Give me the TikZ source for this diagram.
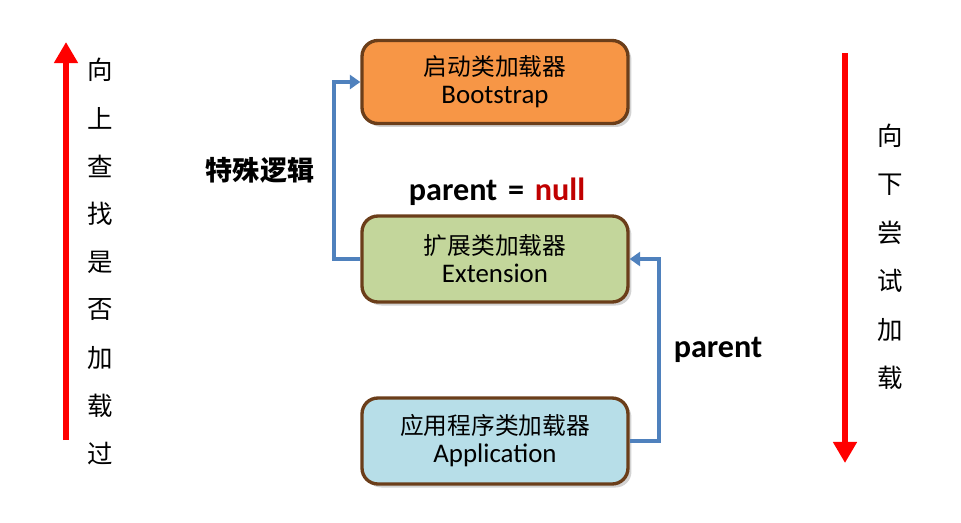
\documentclass[tikz,border=0pt]{standalone}
\usepackage{fontspec}
\setmainfont{Carlito}
\newfontfamily\cjk{Noto Sans CJK SC}
\usetikzlibrary{arrows.meta,shadows}

\definecolor{bootorange}{HTML}{F79646}
\definecolor{extgreen}{HTML}{C3D69B}
\definecolor{appblue}{HTML}{B7DEE8}
\definecolor{boxbrown}{HTML}{6B3E1A}
\definecolor{linkblue}{HTML}{4F81BD}
\definecolor{nullred}{HTML}{C00000}

\newcommand{\cntext}[1]{{\cjk\fontsize{13.5}{16}\selectfont #1}}

\tikzset{
    loader/.style={draw=boxbrown, line width=1.9pt, rounded corners=9pt,
        minimum width=5.32cm, minimum height=1.66cm, align=center,
        font=\fontsize{15.3}{16}\selectfont,
        drop shadow={shadow xshift=0.07cm, shadow yshift=-0.07cm, opacity=0.35}},
    link/.style={draw=linkblue, line width=2.2pt, -{Triangle[width=8pt,length=6pt]}},
    bigarrow/.style={draw=red, line width=3pt, -{Triangle[width=13pt,length=12pt]}},
    tag/.style={font=\cjk\bfseries\fontsize{15.4}{18}\selectfont},
    entag/.style={font=\bfseries\fontsize{18.3}{20}\selectfont},
    vchar/.style={font=\cjk\fontsize{14.5}{16}\selectfont}
}

\begin{document}
\begin{tikzpicture}[x=0.02cm, y=-0.02cm]
\useasboundingbox (0,0) rectangle (961,522);

% Loaders
\node[loader, fill=bootorange] (boot) at (495,82) {\cntext{启动类加载器}\\Bootstrap};
\node[loader, fill=extgreen, minimum height=1.72cm] (ext) at (495,259) {\cntext{扩展类加载器}\\Extension};
\node[loader, fill=appblue, minimum height=1.72cm] (app) at (495,441) {\cntext{应用程序类加载器}\\Application};

% Parent links
\coordinate (lbend) at (334,0);
\coordinate (rbend) at (659,0);
\draw[link] (ext.west) -- (ext.west -| lbend) -- (boot.west -| lbend) -- (boot.west);
\draw[link] (app.east) -- (app.east -| rbend) -- (ext.east -| rbend) -- (ext.east);

% Labels
\node[tag] (special) at (260,170) {特殊逻辑};
\node[entag] (pnull) at (497,192) {parent\,\,=\,\,\textcolor{nullred}{null}};
\node[entag] (par) at (718,350) {parent};

% Direction arrows
\coordinate (upstart) at (66,440);
\coordinate (upend) at (66,42);
\draw[bigarrow] (upstart) -- (upend);
\coordinate (downstart) at (845,53);
\coordinate (downend) at (845,463);
\draw[bigarrow] (downstart) -- (downend);

\foreach \c [count=\i] in {向,上,查,找,是,否,加,载,过} {
    \node[vchar] (up\i) at (100,{70+48*(\i-1)}) {\c};
}
\foreach \c [count=\i] in {向,下,尝,试,加,载} {
    \node[vchar] (down\i) at (890,{136+48.4*(\i-1)}) {\c};
}

\end{tikzpicture}
\end{document}
